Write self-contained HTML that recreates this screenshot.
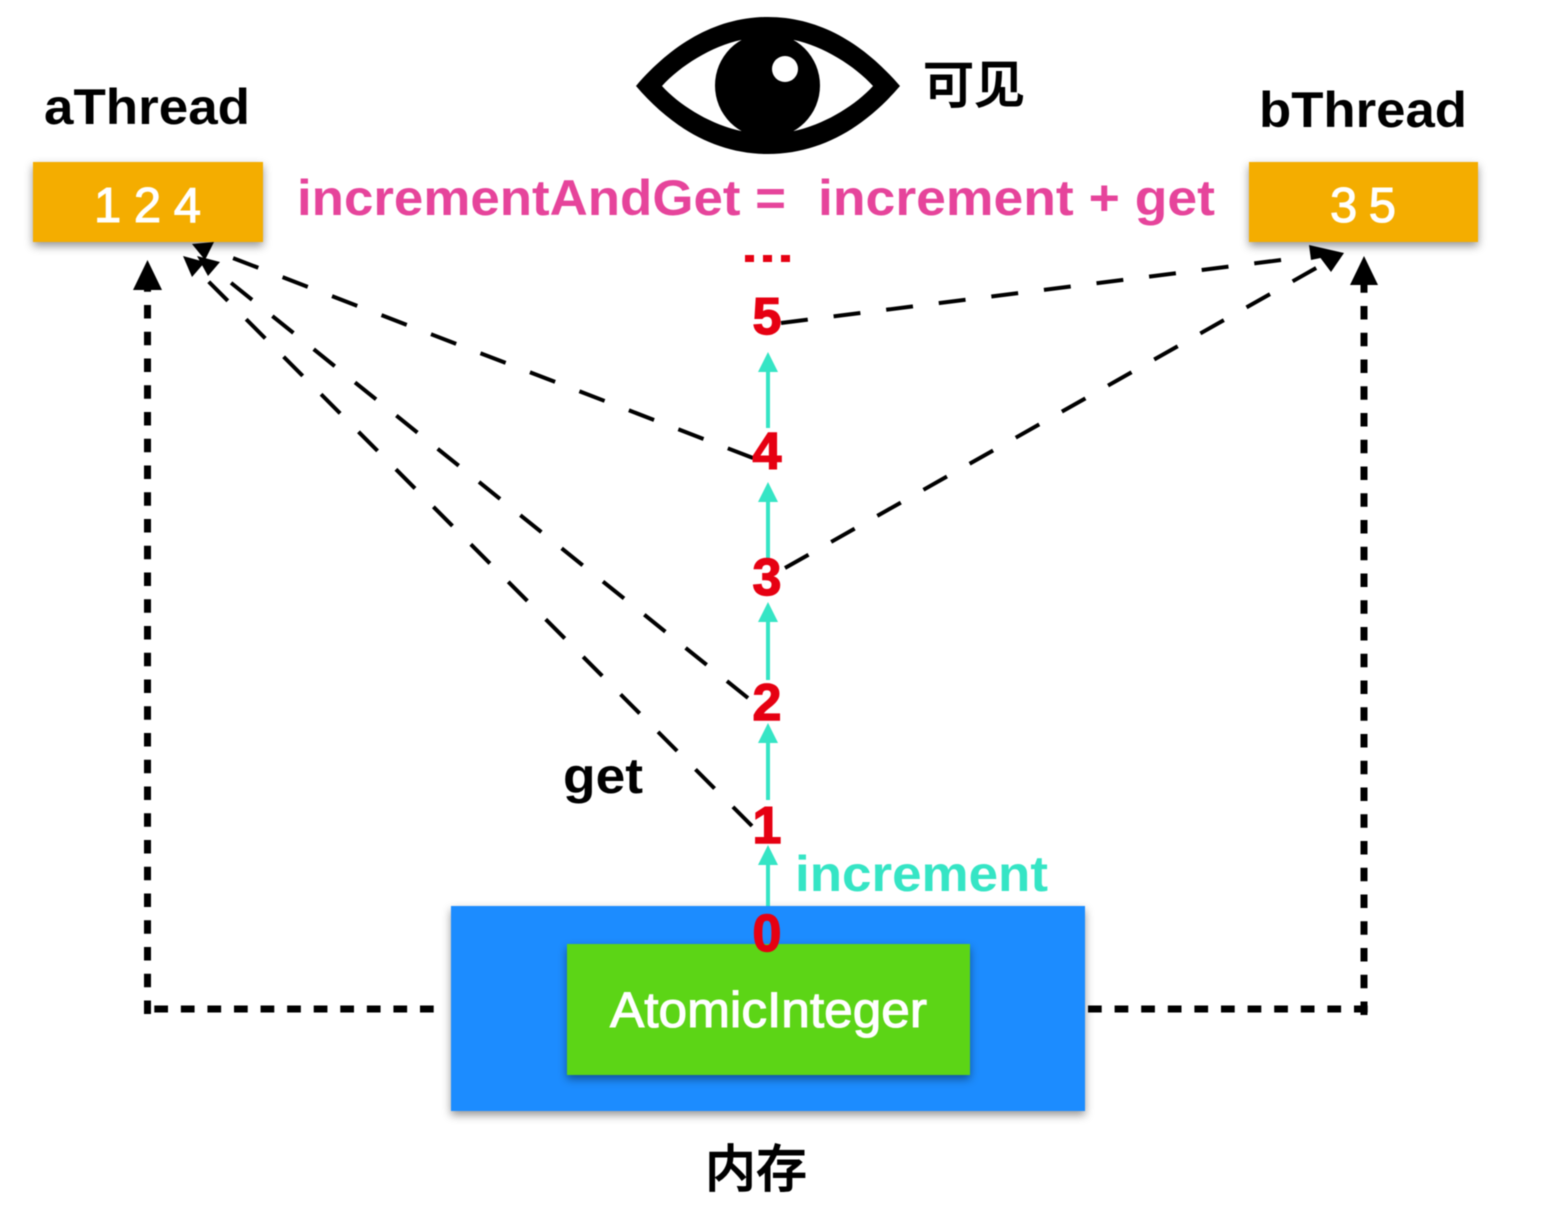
<!DOCTYPE html>
<html><head><meta charset="utf-8"><style>
html,body{margin:0;padding:0;background:#fff;width:1562px;height:1228px;overflow:hidden}
svg{display:block;filter:blur(0.4px)}
text{font-family:"Liberation Sans","Noto Sans CJK SC",sans-serif;font-weight:bold}
.cjk{font-weight:500;stroke:#000;stroke-width:0.9}
.reg{font-weight:normal;stroke:#fff;stroke-width:1.1}
</style></head><body>
<svg width="1562" height="1228" viewBox="0 0 1562 1228" xmlns="http://www.w3.org/2000/svg">
<defs><filter id="s" x="-10%" y="-15%" width="120%" height="135%"><feDropShadow dx="0" dy="4" stdDeviation="4.5" flood-color="#000" flood-opacity="0.42"/></filter></defs>
<rect width="1562" height="1228" fill="#fff"/>

<!-- eye -->
<path fill-rule="evenodd" d="M636 86 C672 44 716 17 768 17 C820 17 864 44 900 86 C864 128 820 154 768 154 C716 154 672 128 636 86 Z M662 86 C680 106 712 125 741 131 L794 131 C823 125 855 106 873 86 C855 66 823 46 794 40 L741 40 C712 46 680 66 662 86 Z"/>
<circle cx="767.5" cy="85.5" r="52.5"/>
<circle cx="785" cy="69" r="13" fill="#fff"/>
<text class="cjk" x="923" y="103" font-size="51" textLength="102" lengthAdjust="spacingAndGlyphs">可见</text>

<!-- thin dashed -->
<g stroke="#000" stroke-width="4" fill="none" stroke-dasharray="27 26">
<line x1="752" y1="826" x2="205" y2="278"/>
<line x1="748" y1="698" x2="220" y2="274"/>
<line x1="753" y1="458" x2="212" y2="250"/>
<line x1="781" y1="323" x2="1285" y2="259.5"/>
<line x1="785" y1="568" x2="1318" y2="267"/>
</g>
<polygon points="183,256 205,262 192,277"/>
<polygon points="197,256 220,262 208,276"/>
<polygon points="192,244 214,242 205,260"/>
<polygon points="1309,245 1344,253 1311,260"/>
<polygon points="1344,253 1331,272 1316,252"/>

<!-- thick dashed -->
<g stroke="#000" stroke-width="7" fill="none">
<line x1="147.5" y1="1014" x2="147.5" y2="280" stroke-dasharray="13.5 13.25"/>
<line x1="154.3" y1="1009" x2="434" y2="1009" stroke-dasharray="13.7 12.87"/>
<line x1="1088" y1="1009" x2="1368" y2="1009" stroke-dasharray="13.7 12.9"/>
<line x1="1364" y1="1015" x2="1364" y2="276" stroke-dasharray="13.5 13.25"/>
</g>
<polygon points="147.5,260 162,290 133,290"/>
<polygon points="1364,256 1378,285 1350,285"/>

<!-- boxes -->
<rect x="33" y="162" width="230" height="80" fill="#f4ad00" filter="url(#s)"/>
<rect x="1249" y="162" width="229" height="80" fill="#f4ad00" filter="url(#s)"/>
<rect x="451" y="906" width="634" height="205" fill="#1a8cff" filter="url(#s)"/>
<rect x="567" y="944" width="403" height="131" fill="#5bd518" filter="url(#s)"/>

<!-- teal arrows -->
<g stroke="#35e5c5" stroke-width="4">
<line x1="768" y1="906" x2="768" y2="860"/>
<line x1="768" y1="800" x2="768" y2="738"/>
<line x1="768" y1="680" x2="768" y2="618"/>
<line x1="768" y1="558" x2="768" y2="498"/>
<line x1="768" y1="428" x2="768" y2="368"/>
</g>
<g fill="#35e5c5">
<polygon points="768,845 778,865 758,865"/>
<polygon points="768,723 778,743 758,743"/>
<polygon points="768,602 778,622 758,622"/>
<polygon points="768,482 778,502 758,502"/>
<polygon points="768,352 778,372 758,372"/>
</g>

<!-- labels -->
<text x="44" y="124" font-size="50" textLength="206" lengthAdjust="spacingAndGlyphs">aThread</text>
<text x="1259" y="127" font-size="50" textLength="208" lengthAdjust="spacingAndGlyphs">bThread</text>
<text class="reg" x="94" y="222" font-size="49" fill="#fff" textLength="107" lengthAdjust="spacing">1 2 4</text>
<text class="reg" x="1330" y="222" font-size="49" fill="#fff" textLength="66" lengthAdjust="spacing">3 5</text>
<text x="297" y="215" font-size="50" fill="#e6449b" textLength="489" lengthAdjust="spacingAndGlyphs">incrementAndGet =</text>
<text x="818" y="215" font-size="50" fill="#e6449b" textLength="397" lengthAdjust="spacingAndGlyphs">increment + get</text>
<text x="795" y="891" font-size="50" fill="#35e5c5" textLength="253" lengthAdjust="spacingAndGlyphs">increment</text>
<text x="563" y="793" font-size="50" textLength="80" lengthAdjust="spacingAndGlyphs">get</text>
<text class="reg" x="610" y="1027" font-size="50" fill="#fff" textLength="317" lengthAdjust="spacingAndGlyphs">AtomicInteger</text>
<text class="cjk" x="705" y="1187" font-size="51" textLength="102" lengthAdjust="spacingAndGlyphs">内存</text>

<!-- numbers -->
<g fill="#e60012" stroke="#e60012" stroke-width="1.4" font-size="52" text-anchor="middle">
<text x="767" y="334">5</text>
<text x="767" y="469">4</text>
<text x="767" y="595">3</text>
<text x="767" y="720">2</text>
<text x="767" y="843">1</text>
<text x="767" y="951">0</text>
</g>
<g fill="#e60012">
<rect x="745" y="255" width="9" height="7"/>
<rect x="763" y="255" width="9" height="7"/>
<rect x="781" y="255" width="9" height="7"/>
</g>
</svg>
</body></html>
